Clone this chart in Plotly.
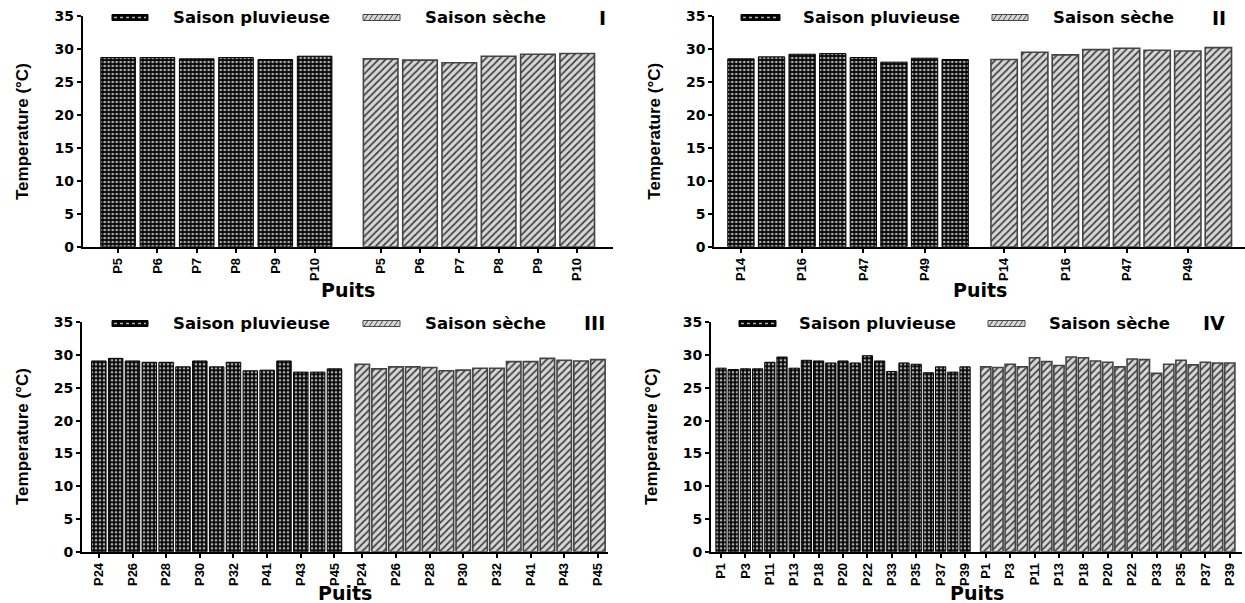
import plotly.graph_objects as go

W, H = 1245, 603

# ---- data: mean well temperature (°C), rainy vs dry season ----
wells_1 = ["P5", "P6", "P7", "P8", "P9", "P10"]
rain_1 = [28.7, 28.7, 28.5, 28.7, 28.4, 28.9]
dry_1 = [28.5, 28.3, 27.9, 28.9, 29.2, 29.3]

wells_2 = ["P14", "P15", "P16", "P17", "P47", "P48", "P49", "P50"]
rain_2 = [28.5, 28.8, 29.2, 29.3, 28.7, 28.0, 28.6, 28.4]
dry_2 = [28.4, 29.5, 29.1, 29.9, 30.1, 29.8, 29.7, 30.2]

wells_3 = ["P24", "P25", "P26", "P27", "P28", "P29", "P30", "P31",
           "P32", "P40", "P41", "P42", "P43", "P44", "P45"]
rain_3 = [29.1, 29.5, 29.1, 28.9, 28.9, 28.2, 29.1, 28.2,
          28.9, 27.6, 27.7, 29.1, 27.4, 27.4, 27.9]
dry_3 = [28.6, 27.9, 28.2, 28.2, 28.1, 27.6, 27.7, 28.0,
         28.0, 29.0, 29.0, 29.5, 29.2, 29.1, 29.3]

wells_4 = ["P1", "P2", "P3", "P4", "P11", "P12", "P13", "P17", "P18", "P19", "P20",
           "P21", "P22", "P32", "P33", "P34", "P35", "P36", "P37", "P38", "P39"]
rain_4 = [28.0, 27.8, 27.9, 27.9, 28.9, 29.7, 28.0, 29.2, 29.1, 28.8, 29.1,
          28.8, 29.9, 29.1, 27.5, 28.8, 28.6, 27.3, 28.2, 27.4, 28.2]
dry_4 = [28.2, 28.1, 28.6, 28.2, 29.6, 29.0, 28.4, 29.7, 29.6, 29.1, 28.9,
         28.2, 29.4, 29.3, 27.2, 28.6, 29.2, 28.5, 28.9, 28.8, 28.8]

season_names = ["Saison pluvieuse", "Saison sèche"]
panel_tags = ["I", "II", "III", "IV"]
x_title = "Puits"
y_title = "Temperature (°C)"

# ---- panel geometry (pixels) ----
panels = [
    dict(wells=wells_1, rain=rain_1, dry=dry_1, x0=82.7, x1=613, y0=16, y1=246.7,
         gap=1.68, padl=0.9, padr=0.91, bw=0.88, step=1, tag_x=608,
         leg=(112, 148, 171, 363, 400, 423), leg_y=17.5, title_y=301.5),
    dict(wells=wells_2, rain=rain_2, dry=dry_2, x0=714.3, x1=1245, y0=16, y1=246.7,
         gap=1.6, padl=0.87, padr=0.87, bw=0.86, step=2, tag_x=1228,
         leg=(741, 780, 801, 992, 1028, 1051), leg_y=17.5, title_y=301.5),
    dict(wells=wells_3, rain=rain_3, dry=dry_3, x0=82, x1=608, y0=322.3, y1=551.7,
         gap=1.65, padl=1.0, padr=0.6, bw=0.86, step=2, tag_x=607,
         leg=(112, 148, 171, 363, 400, 423), leg_y=323.5, title_y=604.5),
    dict(wells=wells_4, rain=rain_4, dry=dry_4, x0=711, x1=1242, y0=322.3, y1=551.7,
         gap=1.7, padl=0.82, padr=1.0, bw=0.84, step=2, tag_x=1227,
         leg=(739, 776, 797, 988, 1025, 1047), leg_y=323.5, title_y=604.5),
]

RAIN_MARKER = dict(
    color="black",
    line=dict(color="black", width=1),
    pattern=dict(shape=".", fgcolor="#acacac", bgcolor="#050505", size=4, solidity=0.36),
)
DRY_MARKER = dict(
    color="#d4d4d4",
    line=dict(color="#444444", width=1.6),
    pattern=dict(shape="/", fgcolor="#3c3c3c", bgcolor="#d6d6d6", size=5, solidity=0.34),
)

TICK_FONT_Y = dict(family="DejaVu Sans", size=14, color="black", weight="bold")
TICK_FONT_X = dict(family="Liberation Sans", size=13, color="black", weight="bold")
LEG_FONT = dict(family="DejaVu Sans", size=16.5, color="black", weight="bold")


def px(x):
    return x / W


def py(y):
    return 1 - y / H


fig = go.Figure()
shapes = []
annotations = []
layout = {}

for k, p in enumerate(panels, start=1):
    n = len(p["wells"])
    rain_x = list(range(n))
    dry_x = [n - 1 + p["gap"] + i for i in range(n)]
    xa = "x" if k == 1 else f"x{k}"
    ya = "y" if k == 1 else f"y{k}"

    fig.add_trace(go.Bar(x=rain_x, y=p["rain"], width=p["bw"], marker=RAIN_MARKER,
                         name=season_names[0], showlegend=False, xaxis=xa, yaxis=ya))
    fig.add_trace(go.Bar(x=dry_x, y=p["dry"], width=p["bw"], marker=DRY_MARKER,
                         name=season_names[1], showlegend=False, xaxis=xa, yaxis=ya))

    step = p["step"]
    tickvals = rain_x[::step] + dry_x[::step]
    ticktext = p["wells"][::step] + p["wells"][::step]

    xkey = "xaxis" if k == 1 else f"xaxis{k}"
    ykey = "yaxis" if k == 1 else f"yaxis{k}"
    layout[xkey] = dict(
        domain=[px(p["x0"]), px(p["x1"])],
        range=[-p["padl"], dry_x[-1] + p["padr"]],
        anchor=ya, tickmode="array", tickvals=tickvals, ticktext=ticktext,
        tickangle=-90, tickfont=TICK_FONT_X, showline=True, linecolor="black",
        linewidth=2, ticks="outside", ticklen=4, tickwidth=1.5, tickcolor="black",
        showgrid=False, zeroline=False, fixedrange=True, automargin=False,
    )
    layout[ykey] = dict(
        domain=[py(p["y1"]), py(p["y0"])],
        range=[0, 35], dtick=5, tick0=0, anchor=xa, tickfont=TICK_FONT_Y,
        showline=True, linecolor="black", linewidth=2, ticks="outside",
        ticklen=4, tickwidth=1.5, tickcolor="black", showgrid=False,
        zeroline=False, fixedrange=True, automargin=False,
    )

    # axis titles
    cx = (p["x0"] + p["x1"]) / 2
    annotations.append(dict(
        text=x_title, x=px(cx), y=py(p["title_y"]), xref="paper",
        yref="paper", xanchor="center", yanchor="bottom", showarrow=False,
        borderpad=0,
        font=dict(family="DejaVu Sans", size=19, color="black", weight="bold"),
    ))
    annotations.append(dict(
        text=y_title, x=px(p["x0"] - 60), y=py((p["y0"] + p["y1"]) / 2),
        xref="paper", yref="paper", xanchor="center", yanchor="middle",
        textangle=-90, showarrow=False,
        font=dict(family="Liberation Sans", size=17, color="black", weight="bold"),
    ))

    # panel tag
    annotations.append(dict(
        text=panel_tags[k - 1], x=px(p["tag_x"]), y=py(p["leg_y"]),
        xref="paper", yref="paper", xanchor="right", yanchor="middle",
        showarrow=False,
        font=dict(family="DejaVu Sans", size=19, color="black", weight="bold"),
    ))

    # legend: swatches + labels
    s1a, s1b, t1, s2a, s2b, t2 = p["leg"]
    ly = p["leg_y"]
    shapes.append(dict(type="rect", xref="paper", yref="paper",
                       x0=px(s1a), x1=px(s1b), y0=py(ly + 3), y1=py(ly - 3),
                       fillcolor="black", line=dict(color="black", width=1)))
    shapes.append(dict(type="line", xref="paper", yref="paper",
                       x0=px(s1a + 2), x1=px(s1b - 2), y0=py(ly), y1=py(ly),
                       line=dict(color="#b4b4b4", width=1.5, dash="dot")))
    shapes.append(dict(type="rect", xref="paper", yref="paper",
                       x0=px(s2a), x1=px(s2b), y0=py(ly + 3), y1=py(ly - 3),
                       fillcolor="#d6d6d6", line=dict(color="#474747", width=1)))
    hatch = ""
    xh = s2a + 1
    while xh + 4 <= s2b:
        hatch += f"M {px(xh)} {py(ly + 3)} L {px(xh + 4)} {py(ly - 3)} "
        xh += 5
    shapes.append(dict(type="path", xref="paper", yref="paper", path=hatch,
                       line=dict(color="#4a4a4a", width=1)))
    annotations.append(dict(text=season_names[0], x=px(t1), y=py(ly), xref="paper",
                            yref="paper", xanchor="left", yanchor="middle",
                            showarrow=False, font=LEG_FONT))
    annotations.append(dict(text=season_names[1], x=px(t2), y=py(ly), xref="paper",
                            yref="paper", xanchor="left", yanchor="middle",
                            showarrow=False, font=LEG_FONT))

fig.update_layout(
    template="none",
    width=W, height=H,
    margin=dict(l=0, r=0, t=0, b=0, pad=0),
    paper_bgcolor="white", plot_bgcolor="white",
    barmode="overlay", showlegend=False,
    shapes=shapes, annotations=annotations,
    **layout,
)

fig.write_html("out.html", config={"displayModeBar": False})
